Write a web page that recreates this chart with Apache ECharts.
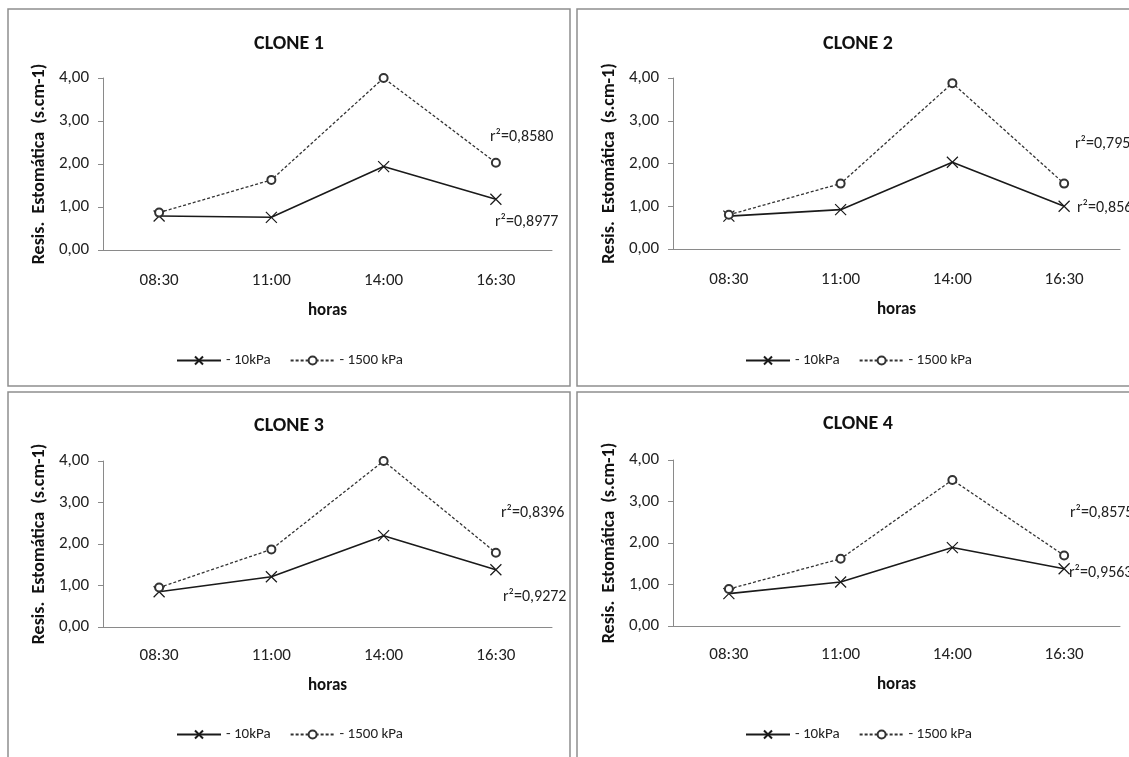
<!DOCTYPE html>
<html>
<head>
<meta charset="utf-8">
<script src="https://cdn.jsdelivr.net/npm/echarts@6/dist/echarts.min.js"></script>
<style>
html,body{margin:0;padding:0;background:#fff;}
#c{width:1129px;height:757px;}
</style>
</head>
<body>
<div id="c"></div>
<script>
// ---- data ----
var categories = ['08:30', '11:00', '14:00', '16:30'];
var seriesNames = ['- 10kPa', '- 1500 kPa'];
var panelTitles = ['CLONE 1', 'CLONE 2', 'CLONE 3', 'CLONE 4'];
var clone1_10 = [0.79, 0.76, 1.94, 1.18];
var clone1_1500 = [0.87, 1.63, 4.00, 2.03];
var clone2_10 = [0.77, 0.92, 2.03, 1.00];
var clone2_1500 = [0.80, 1.53, 3.88, 1.53];
var clone3_10 = [0.85, 1.21, 2.20, 1.38];
var clone3_1500 = [0.95, 1.87, 4.00, 1.79];
var clone4_10 = [0.78, 1.06, 1.89, 1.38];
var clone4_1500 = [0.89, 1.62, 3.52, 1.70];
var r2_1500 = ['r²=0,8580', 'r²=0,7959', 'r²=0,8396', 'r²=0,8575'];
var r2_10 = ['r²=0,8977', 'r²=0,8568', 'r²=0,9272', 'r²=0,9563'];
var yTicks = [0, 1, 2, 3, 4];

// ---- layout (pixels) ----
var FONT = 'Carlito, Lato, "Liberation Sans", sans-serif';
var panels = [
  {box:[8, 9, 562, 377], grid:{left:103, top:78, width:449, height:172}, title:[289, 34], legend:[176, 353], r2a:[490, 137], r2b:[495, 222], nameGap:52, labelMargin:22},
  {box:[577, 9, 562, 377], grid:{left:673, top:78, width:447, height:171}, title:[858, 34], legend:[745, 353], r2a:[1075, 144], r2b:[1077, 208], nameGap:52, labelMargin:22},
  {box:[8, 392, 562, 380], grid:{left:103, top:461, width:449, height:166}, title:[289, 416], legend:[176, 727], r2a:[501, 513], r2b:[503, 597], nameGap:50, labelMargin:20},
  {box:[577, 392, 562, 380], grid:{left:673, top:460, width:447, height:166}, title:[858, 414], legend:[745, 727], r2a:[1070, 513], r2b:[1069, 573], nameGap:50, labelMargin:20}
];
var data10 = [clone1_10, clone2_10, clone3_10, clone4_10];
var data1500 = [clone1_1500, clone2_1500, clone3_1500, clone4_1500];

var XPATH = 'path://M0,0L10,10M10,0L0,10';
var grids = [], xAxes = [], yAxes = [], series = [], titles = [], legends = [], graphics = [];

panels.forEach(function (p, i) {
  graphics.push({type:'rect', z:-10, shape:{x:p.box[0], y:p.box[1], width:p.box[2], height:p.box[3]},
    style:{fill:'#fff', stroke:'#8e8e8e', lineWidth:1.5}});
  graphics.push({type:'text', z:10, x:p.r2a[0], y:p.r2a[1],
    style:{text:r2_1500[i], fill:'#222', font:'16px ' + FONT, textVerticalAlign:'middle', textAlign:'left'}});
  graphics.push({type:'text', z:10, x:p.r2b[0], y:p.r2b[1],
    style:{text:r2_10[i], fill:'#222', font:'16px ' + FONT, textVerticalAlign:'middle', textAlign:'left'}});

  grids.push({left:p.grid.left, top:p.grid.top, width:p.grid.width, height:p.grid.height, containLabel:false});
  titles.push({text:panelTitles[i], left:p.title[0], top:p.title[1], textAlign:'center', padding:0,
    textStyle:{fontFamily:FONT, fontWeight:'bold', fontSize:20, color:'#111'}});
  xAxes.push({type:'category', gridIndex:i, data:categories, boundaryGap:true,
    axisLine:{lineStyle:{color:'#8a8a8a', width:1}}, axisTick:{show:false},
    axisLabel:{fontFamily:FONT, fontSize:17, color:'#222', margin:p.labelMargin},
    name:'horas', nameLocation:'middle', nameGap:p.nameGap,
    nameTextStyle:{fontFamily:FONT, fontWeight:'bold', fontSize:17, color:'#111'}});
  yAxes.push({type:'value', gridIndex:i, min:yTicks[0], max:yTicks[yTicks.length - 1], interval:1,
    axisLine:{show:true, lineStyle:{color:'#8a8a8a', width:1}},
    axisTick:{show:true, length:5, lineStyle:{color:'#8a8a8a'}},
    splitLine:{show:false},
    axisLabel:{fontFamily:FONT, fontSize:17, color:'#222', margin:14,
      formatter:function (v) { return v.toFixed(2).replace('.', ','); }},
    name:'Resis.  Estomática  (s.cm-1)', nameLocation:'middle', nameGap:55, nameRotate:90,
    nameTextStyle:{fontFamily:FONT, fontWeight:'bold', fontSize:18, color:'#111'}});
  series.push({type:'line', name:seriesNames[0], xAxisIndex:i, yAxisIndex:i, data:data10[i],
    symbol:XPATH, symbolSize:11, showAllSymbol:true, animation:false,
    lineStyle:{color:'#1a1a1a', width:1.6, type:'solid'},
    itemStyle:{color:'#1a1a1a', borderColor:'#1a1a1a', borderWidth:1.2}, z:3});
  series.push({type:'line', name:seriesNames[1], xAxisIndex:i, yAxisIndex:i, data:data1500[i],
    symbol:'emptyCircle', symbolSize:8, showAllSymbol:true, animation:false,
    lineStyle:{color:'#333', width:1.3, type:[3, 2]},
    itemStyle:{color:'#333', borderColor:'#333', borderWidth:1.3}, z:4});
  legends.push({data:seriesNames, left:p.legend[0], top:p.legend[1], orient:'horizontal', padding:0,
    itemWidth:44, itemHeight:10, itemGap:19, selectedMode:false,
    textStyle:{fontFamily:FONT, fontSize:15, color:'#222'}});
});

var chart = echarts.init(document.getElementById('c'), null, {renderer:'canvas'});
chart.setOption({
  backgroundColor:'#fff',
  animation:false,
  title:titles,
  legend:legends,
  grid:grids,
  xAxis:xAxes,
  yAxis:yAxes,
  series:series,
  graphic:graphics
});
</script>
</body>
</html>
